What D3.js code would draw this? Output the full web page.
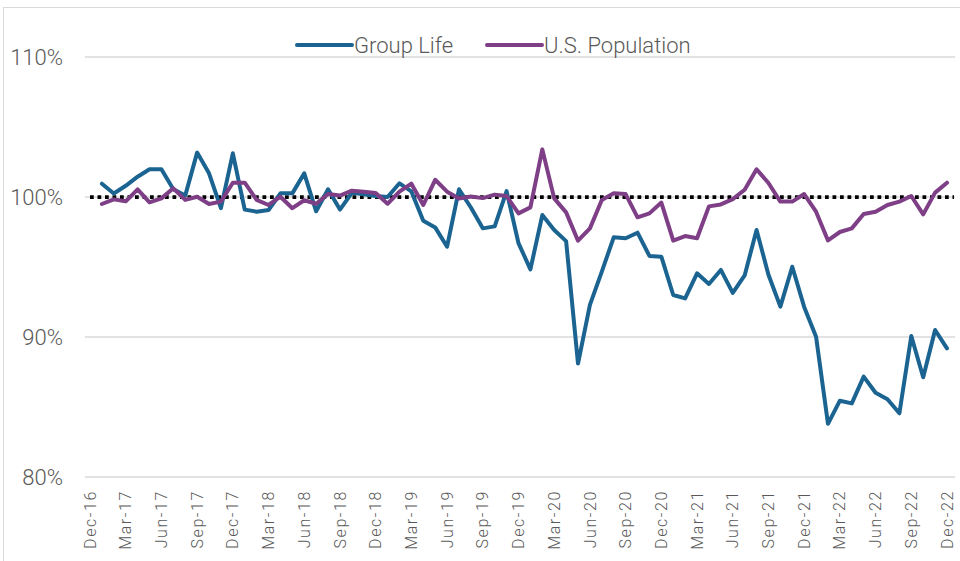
<!DOCTYPE html>
<html>
<head>
<meta charset="utf-8">
<script src="https://cdn.jsdelivr.net/npm/d3@7"></script>
<style>
  body { margin: 0; background: #fff; }
  svg { display: block; font-family: Roboto, "Open Sans", sans-serif; }
  .grid line { stroke: #d9d9d9; stroke-width: 1.5; }
  .ylab, .xlab, .legend text { fill: #595959; font-weight: 300; }
</style>
</head>
<body>
<div id="chart"></div>
<script>
const width = 960;
const height = 561;

// months on the category axis (Dec-16 .. Dec-22), first one has no data
const monthNames = ['Jan','Feb','Mar','Apr','May','Jun','Jul','Aug','Sep','Oct','Nov','Dec'];
const months = ['Dec-16'];
for (let yr = 17; yr <= 22; yr++) monthNames.forEach(m => months.push(m + '-' + yr));

const tickLabels = months.filter((m, i) => i % 3 === 0);
const yTicks = [80, 90, 100, 110];

// actual / expected ratio, in %
const groupLife = [null,
  100.95, 100.25, 100.8, 101.45, 101.98, 101.98, 100.55, 100.1, 103.17, 101.69, 99.2, 103.12,
  99.1, 98.95, 99.07, 100.26, 100.26, 101.69, 98.98, 100.55, 99.1, 100.3, 100.2, 100.07,
  100.0, 100.98, 100.4, 98.3, 97.83, 96.45, 100.55, 99.25, 97.76, 97.9, 100.42, 96.7,
  94.83, 98.71, 97.64, 96.85, 88.1, 92.29, 94.67, 97.12, 97.05, 97.45, 95.79, 95.74,
  93.0, 92.76, 94.55, 93.79, 94.79, 93.15, 94.4, 97.64, 94.45, 92.17, 95.02, 92.15,
  90.02, 83.8, 85.45, 85.26, 87.17, 86.02, 85.55, 84.55, 90.07, 87.12, 90.5, 89.19];

const usPopulation = [null,
  99.5, 99.83, 99.69, 100.55, 99.62, 99.9, 100.62, 99.79, 100.02, 99.5, 99.67, 101.02,
  101.02, 99.79, 99.43, 100.02, 99.2, 99.77, 99.52, 100.21, 100.1, 100.45, 100.38, 100.28,
  99.52, 100.38, 100.95, 99.43, 101.23, 100.38, 99.9, 100.03, 99.92, 100.17, 100.07, 98.83,
  99.26, 103.4, 99.9, 98.9, 96.88, 97.76, 99.79, 100.26, 100.21, 98.55, 98.83, 99.6,
  96.88, 97.21, 97.05, 99.33, 99.47, 99.85, 100.52, 101.98, 101.0, 99.67, 99.67, 100.21,
  98.95, 96.9, 97.5, 97.76, 98.79, 98.95, 99.43, 99.67, 100.07, 98.76, 100.31, 101.02];

const seriesNames = ['Group Life', 'U.S. Population'];
const seriesColors = ['#1b6491', '#7e3f87'];
const baseline = 100;

const svg = d3.select('#chart').append('svg')
  .attr('width', width)
  .attr('height', height);

// chart frame
svg.append('rect')
  .attr('x', 3.5).attr('y', 7.5)
  .attr('width', width).attr('height', height)
  .attr('fill', 'none')
  .attr('stroke', '#d9d9d9');

const x = d3.scalePoint().domain(months).range([90, 947]);
const y = d3.scaleLinear().domain([80, 110]).range([477, 57]);

// gridlines
svg.append('g').attr('class', 'grid')
  .selectAll('line')
  .data(yTicks)
  .join('line')
    .attr('x1', 85).attr('x2', 955)
    .attr('y1', d => y(d)).attr('y2', d => y(d));

// y labels
svg.append('g')
  .selectAll('text')
  .data(yTicks)
  .join('text')
    .attr('class', 'ylab')
    .attr('x', 63)
    .attr('y', d => y(d))
    .attr('dy', '0.36em')
    .attr('text-anchor', 'end')
    .style('font-size', '22px')
    .text(d => d + '%');

// x labels, rotated
svg.append('g')
  .selectAll('text')
  .data(tickLabels)
  .join('text')
    .attr('class', 'xlab')
    .attr('transform', d => `translate(${x(d)},490) rotate(-90)`)
    .attr('dy', '0.35em')
    .attr('text-anchor', 'end')
    .style('font-size', '16px')
    .style('letter-spacing', '1.6px')
    .text(d => d);

// 100% reference line
svg.append('line')
  .attr('x1', 90).attr('x2', 954)
  .attr('y1', y(baseline)).attr('y2', y(baseline))
  .attr('stroke', '#000')
  .attr('stroke-width', 3.75)
  .attr('stroke-dasharray', '3.75,3.75');

const line = d3.line()
  .defined(d => d != null)
  .x((d, i) => x(months[i]))
  .y(d => y(d));

[groupLife, usPopulation].forEach((vals, k) => {
  svg.append('path')
    .datum(vals)
    .attr('fill', 'none')
    .attr('stroke', seriesColors[k])
    .attr('stroke-width', 4)
    .attr('stroke-linejoin', 'round')
    .attr('stroke-linecap', 'round')
    .attr('d', line);
});

// legend
const legend = svg.append('g').attr('class', 'legend');
const legendX = [297, 487];
seriesNames.forEach((name, k) => {
  const item = legend.append('g').attr('transform', `translate(${legendX[k]},45)`);
  item.append('line')
    .attr('x1', 0).attr('x2', 55)
    .attr('stroke', seriesColors[k])
    .attr('stroke-width', 4)
    .attr('stroke-linecap', 'round');
  item.append('text')
    .attr('x', 57)
    .attr('dy', '0.36em')
    .style('font-size', '22px')
    .text(name);
});
</script>
</body>
</html>
